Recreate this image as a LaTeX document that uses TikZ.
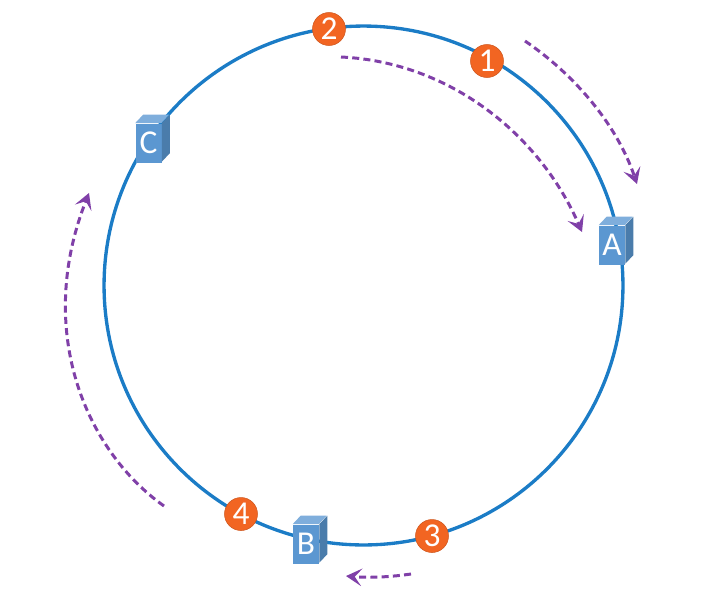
\documentclass[tikz,border=0pt]{standalone}
\usepackage{fontspec}
\setmainfont{Carlito}
\usetikzlibrary{arrows.meta,positioning,calc}

\definecolor{ringblue}{HTML}{1B7CC6}
\definecolor{tokenorange}{HTML}{F26522}
\definecolor{boxfront}{HTML}{5B97D1}
\definecolor{boxtop}{HTML}{7FAEDC}
\definecolor{boxside}{HTML}{4A7CAB}
\definecolor{walkpurple}{HTML}{8040A8}

\newcommand{\serverbox}[4]{%
  \node[server front] (#1) at (#2,#3) {#4};
  \fill[boxtop] (#1.north west) -- ++(8,-8.5) -- ++(26,0) -- ++(-8,8.5) -- cycle;
  \fill[boxside] (#1.north east) -- ++(8,-8.5) -- ++(0,38.5) -- ++(-8,8.5) -- cycle;
}

\begin{document}
\begin{tikzpicture}[
    x=0.02cm, y=-0.02cm,
    >={Stealth[length=9pt,width=10pt,inset=4pt]},
    token/.style={circle, fill=tokenorange, draw=tokenorange!85!black, line width=0.3pt, inner sep=0pt, minimum size=0.66cm, text=white, font=\fontsize{19}{19}\selectfont},
    server front/.style={fill=boxfront, inner sep=0pt, minimum width=0.52cm, minimum height=0.78cm, text=white, font=\fontsize{19}{19}\selectfont},
    walk arrow/.style={->, line width=1.7pt, color=walkpurple, dash pattern=on 4pt off 2.4pt},
]

% Page size
\useasboundingbox (0,0) rectangle (709,596);

% Ring
\node[circle, draw=ringblue, line width=1.9pt, inner sep=0pt, minimum size=10.38cm] (ring) at (363.5,285.5) {};

% Servers
\serverbox{serverA}{612}{245}{A}
\serverbox{serverB}{306}{544}{B}
\serverbox{serverC}{148.5}{143}{C}

% Keys
\node[token] (key1) at (487,61) {1};
\node[token] (key2) at (329,29) {2};
\node[token] (key3) at (432,536) {3};
\node[token] (key4) at (241,514) {4};

% Walk ends
\coordinate (walk1a) at (525,41);
\coordinate (walk1b) at (637,184);
\coordinate (walk2a) at (341,57);
\coordinate (walk2b) at (582,232);
\coordinate (walk3a) at (411,574);
\coordinate (walk3b) at (346,576);
\coordinate (walk4a) at (164,506);
\coordinate (walk4b) at (89,193);

% Walks
\draw[walk arrow] (walk1a) .. controls (575,75) and (617,125) .. (walk1b);
\draw[walk arrow] (walk2a) .. controls (450,62) and (540,135) .. (walk2b);
\draw[walk arrow] (walk3a) .. controls (390,577) and (370,578) .. (walk3b);
\draw[walk arrow] (walk4a) .. controls (85,450) and (35,330) .. (walk4b);

\end{tikzpicture}
\end{document}
